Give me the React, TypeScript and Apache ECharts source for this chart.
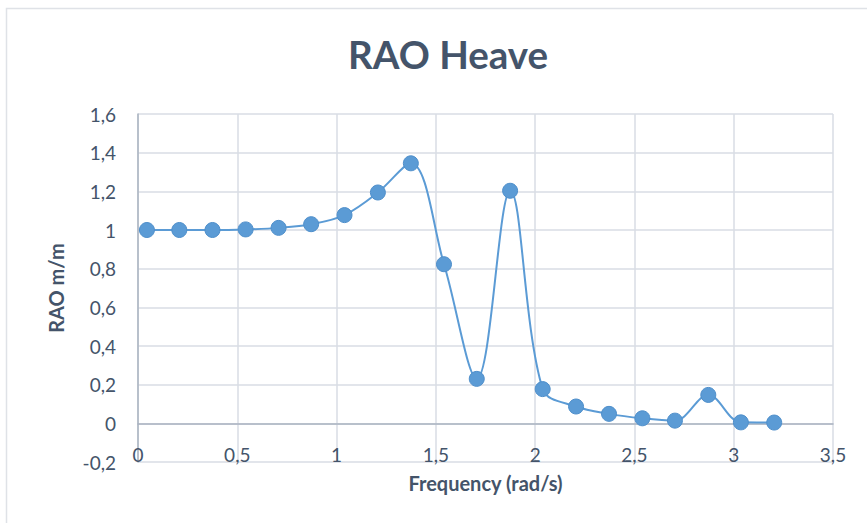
import React, { useEffect, useRef } from "react";
import * as echarts from "echarts";

const frequencies = [0.045, 0.208, 0.375, 0.542, 0.708, 0.872, 1.04, 1.208, 1.374, 1.541, 1.706, 1.874, 2.038, 2.206, 2.372, 2.54, 2.704, 2.872, 3.036, 3.204];
const raoValues = [1.0, 1.0, 1.0, 1.003, 1.011, 1.03, 1.077, 1.194, 1.345, 0.823, 0.23, 1.203, 0.177, 0.087, 0.049, 0.026, 0.014, 0.147, 0.005, 0.004];

const titleText = "RAO Heave";
const xAxisName = "Frequency (rad/s)";
const yAxisName = "RAO m/m";

const TEXT = "#44546a";
const GRID = "#d9dde4";
const AXIS = "#aab3c1";
const BLUE = "#5b9bd5";
const FONT = "Lato, 'Open Sans', sans-serif";

const fmt = (v: number) => String(Math.round(v * 10) / 10).replace(".", ",");

export default function App() {
  const ref = useRef<HTMLDivElement>(null);
  useEffect(() => {
    if (!ref.current) return;
    const chart = echarts.init(ref.current, null, { renderer: "svg" });
    chart.setOption({
      animation: false,
      backgroundColor: "#ffffff",
      graphic: [
        {
          type: "rect",
          shape: { x: 6.5, y: 8.5, width: 900, height: 600 },
          style: { fill: "none", stroke: "#dfe2e7", lineWidth: 1.5 },
          silent: true,
        },
      ],
      title: {
        text: titleText,
        left: 343,
        top: 29,
        textStyle: { color: TEXT, fontSize: 38.5, fontWeight: "bold", fontFamily: FONT },
      },
      grid: { left: 138, right: 34, top: 114, bottom: 61, containLabel: false, outerBoundsMode: "none" },
      xAxis: {
        type: "value",
        min: 0,
        max: 3.5,
        interval: 0.5,
        name: xAxisName,
        nameLocation: "middle",
        nameGap: 11,
        nameMoveOverlap: false,
        nameTextStyle: { color: TEXT, fontSize: 20, fontWeight: "bold", fontFamily: FONT },
        axisLine: { show: true, onZero: true, lineStyle: { color: AXIS, width: 1.5 } },
        axisTick: { show: false },
        axisLabel: { color: TEXT, fontSize: 19, fontFamily: FONT, margin: -17, formatter: fmt },
        splitLine: { show: true, lineStyle: { color: GRID, width: 1.5 } },
      },
      yAxis: {
        type: "value",
        min: -0.2,
        max: 1.6,
        interval: 0.2,
        name: yAxisName,
        nameLocation: "middle",
        nameGap: 72,
        nameMoveOverlap: false,
        nameTextStyle: { color: TEXT, fontSize: 20, fontWeight: "bold", fontFamily: FONT },
        axisLine: { show: true, onZero: false, lineStyle: { color: AXIS, width: 1.5 } },
        axisTick: { show: false },
        axisLabel: { color: TEXT, fontSize: 19, fontFamily: FONT, margin: 22, formatter: fmt },
        splitLine: { show: true, lineStyle: { color: GRID, width: 1.5 } },
      },
      series: [
        {
          type: "line",
          data: frequencies.map((f, i) => [f, raoValues[i]]),
          smooth: 0.35,
          symbol: "circle",
          symbolSize: 15,
          lineStyle: { color: BLUE, width: 2 },
          itemStyle: { color: BLUE, borderColor: "#4f8fcb", borderWidth: 1 },
        },
      ],
    });
    return () => chart.dispose();
  }, []);
  return <div ref={ref} style={{ position: "fixed", left: 0, top: 0, width: 867, height: 523 }} />;
}
